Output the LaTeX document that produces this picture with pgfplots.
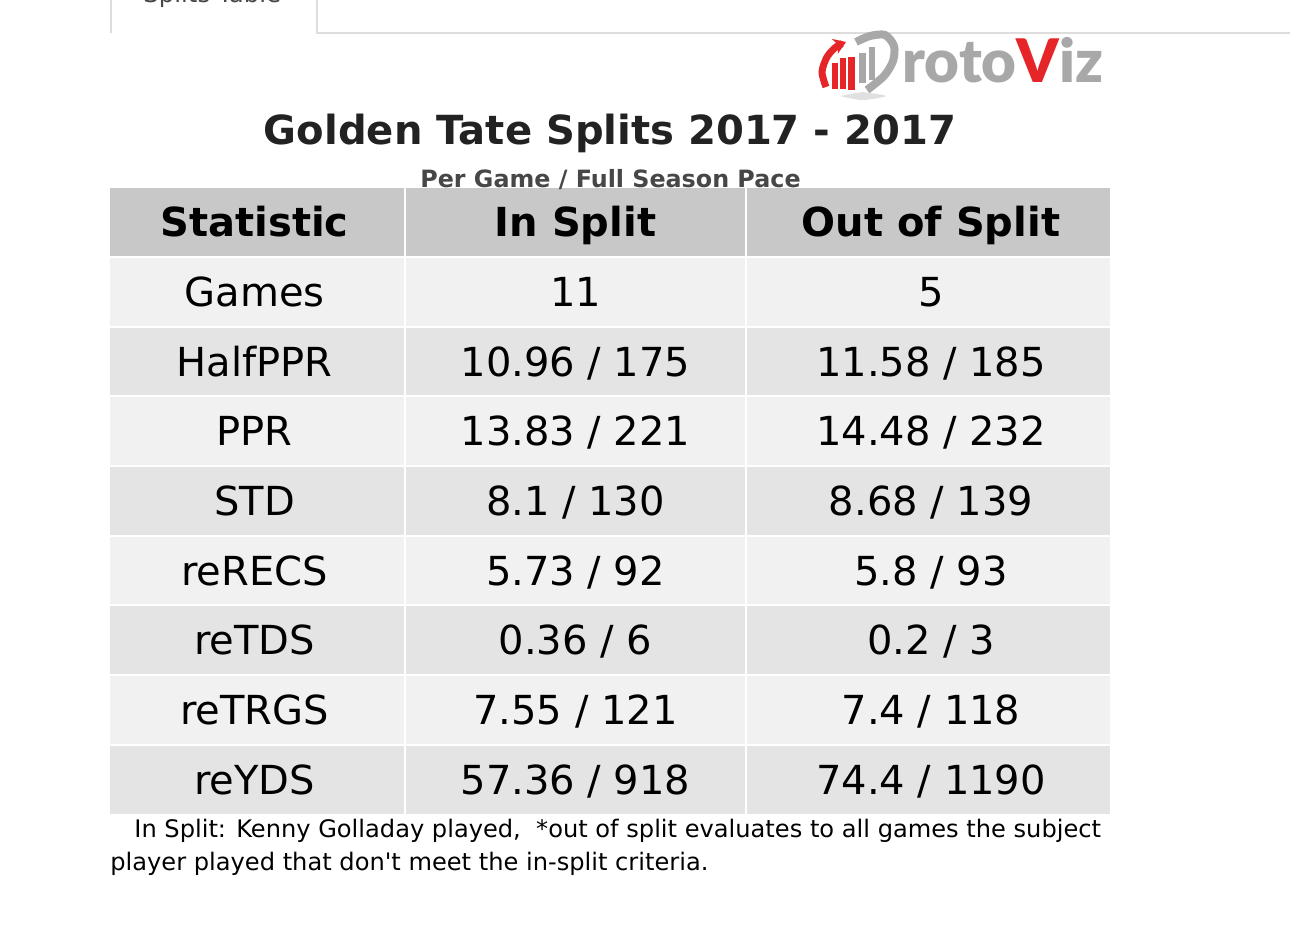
\documentclass[border=0pt]{standalone}
\usepackage{fontspec}
\usepackage{pgfplots}
\usepackage{pgfplotstable}
\pgfplotsset{compat=1.18}
\usetikzlibrary{arrows.meta}
\setmainfont{DejaVu Sans}[Ligatures=TeXOff]
\newfontfamily\logofont{Lato Black}

\definecolor{hdr}{HTML}{C8C8C8}
\definecolor{rowa}{HTML}{F1F1F1}
\definecolor{rowb}{HTML}{E4E4E4}
\definecolor{tabline}{HTML}{DDDDDD}
\definecolor{titlec}{HTML}{222222}
\definecolor{subc}{HTML}{474747}
\definecolor{logored}{HTML}{E52528}
\definecolor{logogray}{HTML}{A8A8A8}

% 1 px = 0.5 pt, y measured from the bottom (932 - pixel row)
\pgfplotstableread[col sep=comma]{
x,y,label
254.5,695,Statistic
575.5,695,In Split
931,695,Out of Split
}\headcells

\pgfplotstableread[col sep=comma]{
x,y,label
254.5,625,Games
575.5,625,11
931,625,5
254.5,555.5,HalfPPR
575.5,555.5,10.96 / 175
931,555.5,11.58 / 185
254.5,486,PPR
575.5,486,13.83 / 221
931,486,14.48 / 232
254.5,416,STD
575.5,416,8.1 / 130
931,416,8.68 / 139
254.5,346.5,reRECS
575.5,346.5,5.73 / 92
931,346.5,5.8 / 93
254.5,277,reTDS
575.5,277,0.36 / 6
931,277,0.2 / 3
254.5,207,reTRGS
575.5,207,7.55 / 121
931,207,7.4 / 118
254.5,137.5,reYDS
575.5,137.5,57.36 / 918
931,137.5,74.4 / 1190
}\bodycells

\newcommand{\logotext}{\textcolor{logogray}{roto}\textcolor{logored}{V}\textcolor{logogray}{iz}}

\begin{document}
\begin{tikzpicture}
\begin{axis}[
  scale only axis,
  width=645pt, height=466pt,
  xmin=0, xmax=1290, ymin=0, ymax=932,
  hide axis, clip=false,
  every node near coord/.append style={anchor=base, inner sep=0pt},
]
% tab strip at the top
\addplot[tabline, line width=1pt] coordinates {(111,932) (111,899)};
\addplot[tabline, line width=1pt] coordinates {(317,932) (317,899) (1290,899)};
\addplot[only marks, mark=none, nodes near coords={Splits Table},
  every node near coord/.append style={anchor=base west, font=\fontsize{12.2}{14}\selectfont, text=subc}]
  coordinates {(143,929)};

% logo
\addplot[fill=black!12, draw=none, smooth] coordinates {(840,836) (862,832) (886,836) (862,840)} -- cycle;
\addplot[logogray, line width=4pt, smooth] coordinates {(856,890) (870,896) (885,897) (894,886) (893,871) (884,856) (867,842)};
\addplot[logored, line width=3.5pt, smooth, -{Stealth[length=6pt,width=8pt]}] coordinates {(826,845) (822,860) (827,875) (836,885) (846,890)};
\addplot[fill=logored, draw=none] coordinates {(832,843) (838,843) (838,869) (832,869)} -- cycle;
\addplot[fill=logored, draw=none] coordinates {(840,843) (846,843) (846,874) (840,874)} -- cycle;
\addplot[fill=logored, draw=none] coordinates {(848,842) (855,842) (855,875) (848,875)} -- cycle;
\addplot[fill=logogray, draw=none] coordinates {(859,849) (866,849) (866,879) (859,879)} -- cycle;
\addplot[fill=logogray, draw=none] coordinates {(869,852) (875,852) (875,885) (869,885)} -- cycle;
\addplot[only marks, mark=none, nodes near coords={\logotext},
  every node near coord/.append style={anchor=base west, font=\logofont\fontsize{30}{34}\selectfont}]
  coordinates {(902,849)};

% title and subtitle
\addplot[only marks, mark=none, nodes near coords={Golden Tate Splits 2017 - 2017},
  every node near coord/.append style={font=\bfseries\fontsize{20.05}{24}\selectfont, text=titlec}]
  coordinates {(610,787)};
\addplot[only marks, mark=none, nodes near coords={Per Game / Full Season Pace},
  every node near coord/.append style={font=\bfseries\fontsize{11.9}{14}\selectfont, text=subc}]
  coordinates {(610.5,744)};

% table rows
\addplot[fill=hdr, draw=none] coordinates {(110,675) (1110,675) (1110,744) (110,744)} -- cycle;
\addplot[fill=rowa, draw=none] coordinates {(110,605) (1110,605) (1110,675) (110,675)} -- cycle;
\addplot[fill=rowb, draw=none] coordinates {(110,536) (1110,536) (1110,605) (110,605)} -- cycle;
\addplot[fill=rowa, draw=none] coordinates {(110,466) (1110,466) (1110,536) (110,536)} -- cycle;
\addplot[fill=rowb, draw=none] coordinates {(110,396) (1110,396) (1110,466) (110,466)} -- cycle;
\addplot[fill=rowa, draw=none] coordinates {(110,327) (1110,327) (1110,396) (110,396)} -- cycle;
\addplot[fill=rowb, draw=none] coordinates {(110,257) (1110,257) (1110,327) (110,327)} -- cycle;
\addplot[fill=rowa, draw=none] coordinates {(110,187) (1110,187) (1110,257) (110,257)} -- cycle;
\addplot[fill=rowb, draw=none] coordinates {(110,118) (1110,118) (1110,187) (110,187)} -- cycle;
% white cell borders
\addplot[white, line width=1pt] coordinates {(405,118) (405,744)};
\addplot[white, line width=1pt] coordinates {(746,118) (746,744)};
\addplot[white, line width=1pt] coordinates {(110,675) (1110,675)};
\addplot[white, line width=1pt] coordinates {(110,605) (1110,605)};
\addplot[white, line width=1pt] coordinates {(110,536) (1110,536)};
\addplot[white, line width=1pt] coordinates {(110,466) (1110,466)};
\addplot[white, line width=1pt] coordinates {(110,396) (1110,396)};
\addplot[white, line width=1pt] coordinates {(110,327) (1110,327)};
\addplot[white, line width=1pt] coordinates {(110,257) (1110,257)};
\addplot[white, line width=1pt] coordinates {(110,187) (1110,187)};

% cell text
\addplot[only marks, mark=none, nodes near coords, point meta=explicit symbolic,
  every node near coord/.append style={font=\bfseries\fontsize{20}{24}\selectfont}]
  table[x=x, y=y, meta=label] {\headcells};
\addplot[only marks, mark=none, nodes near coords, point meta=explicit symbolic,
  every node near coord/.append style={font=\fontsize{20}{24}\selectfont}]
  table[x=x, y=y, meta=label] {\bodycells};

% footnote
\addplot[only marks, mark=none, nodes near coords={In Split: Kenny Golladay played,\ \ *out of split evaluates to all games the subject},
  every node near coord/.append style={anchor=base west, font=\fontsize{12.06}{14}\selectfont}]
  coordinates {(134,95)};
\addplot[only marks, mark=none, nodes near coords={player played that don't meet the in-split criteria.},
  every node near coord/.append style={anchor=base west, font=\fontsize{12.06}{14}\selectfont}]
  coordinates {(110,62)};
\end{axis}
\pgfresetboundingbox
\useasboundingbox (current axis.south west) rectangle (current axis.north east);
\end{tikzpicture}
\end{document}
